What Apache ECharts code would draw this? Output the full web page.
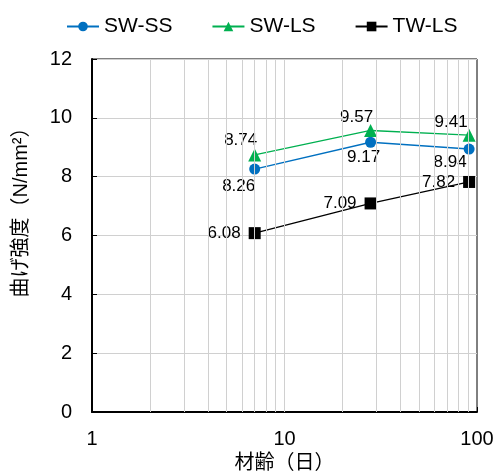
<!DOCTYPE html>
<html><head><meta charset="utf-8">
<script src="https://cdn.jsdelivr.net/npm/echarts@6/dist/echarts.min.js"></script>
<style>html,body{margin:0;padding:0;background:#fff}#c{width:497px;height:473px}</style>
</head><body><div id="c"></div>
<script>
const ages = [7, 28, 91];
const swSS = [8.26, 9.17, 8.94];
const swLS = [8.74, 9.57, 9.41];
const twLS = [6.08, 7.09, 7.82];
const seriesNames = ['SW-SS', 'SW-LS', 'TW-LS'];
const minorGridX = [2,3,4,5,6,7,8,9,10,20,30,40,50,60,70,80,90];
const yTicks = [0, 2, 4, 6, 8, 10, 12];

const FONT = '"Liberation Sans", Arial, "Noto Sans CJK JP", sans-serif';
const chart = echarts.init(document.getElementById('c'));

function pts(vals, offs) {
  return ages.map((a, i) => ({ value: [a, vals[i]], label: { offset: offs[i] } }));
}

chart.setOption({
  animation: false,
  textStyle: { fontFamily: FONT, color: '#000' },
  legend: {
    top: 11, left: 61, itemWidth: 32, itemHeight: 12, itemGap: 39,
    textStyle: { fontSize: 21, color: '#000', fontFamily: FONT },
    data: seriesNames
  },
  grid: { left: 92, right: 20, top: 59, bottom: 61, show: true, borderColor: '#000', borderWidth: 1,
    outerBoundsMode: 'none', containLabel: false },
  xAxis: {
    type: 'log', logBase: 10, min: 1, max: 100,
    name: '材齢（日）', nameLocation: 'middle', nameGap: 40,
    nameTextStyle: { fontSize: 20, color: '#000', fontFamily: FONT },
    axisLine: { lineStyle: { color: '#000', width: 2 } },
    axisTick: { show: true, inside: true, length: 5, lineStyle: { color: '#000' } },
    axisLabel: { fontSize: 20, color: '#000', margin: 17, fontFamily: FONT },
    splitLine: { show: false }
  },
  yAxis: {
    type: 'value', min: 0, max: 12, interval: 2,
    name: '曲げ強度（N/mm²）', nameLocation: 'middle', nameGap: 61,
    nameTextStyle: { fontSize: 20, color: '#000', fontFamily: FONT, padding: [0, 0, 0, 56] },
    axisLine: { show: true, lineStyle: { color: '#000', width: 2 } },
    axisTick: { show: true, inside: true, length: 5, lineStyle: { color: '#000' } },
    axisLabel: { fontSize: 20, color: '#000', margin: 20, fontFamily: FONT,
      formatter: v => yTicks.includes(v) ? String(v) : '' },
    splitLine: { show: true, lineStyle: { color: '#d0d0d0', width: 1 } }
  },
  series: [
    {
      name: '_grid', type: 'line', data: [], silent: true, z: 1,
      markLine: {
        silent: true, symbol: 'none', animation: false,
        label: { show: false },
        lineStyle: { color: '#d0d0d0', width: 1, type: 'solid' },
        data: minorGridX.map(v => ({ xAxis: v }))
      }
    },
    {
      name: 'SW-SS', type: 'line', color: '#0070C0', z: 3,
      symbol: 'circle', symbolSize: 11,
      lineStyle: { width: 1.3, color: '#0070C0' },
      itemStyle: { color: '#0070C0' },
      label: { show: true, position: 'bottom', distance: 1, fontSize: 17, color: '#000', fontFamily: FONT },
      data: pts(swSS, [[-16, 2], [-7, 0], [-19, -2]])
    },
    {
      name: 'SW-LS', type: 'line', color: '#00B050', z: 3,
      symbol: 'triangle', symbolSize: 13,
      lineStyle: { width: 1.3, color: '#00B050' },
      itemStyle: { color: '#00B050' },
      label: { show: true, position: 'top', distance: 1, fontSize: 17, color: '#000', fontFamily: FONT },
      data: pts(swLS, [[-14, 1], [-14, 3], [-18, 3]])
    },
    {
      name: 'TW-LS', type: 'line', color: '#000', z: 3,
      symbol: 'rect', symbolSize: 12,
      lineStyle: { width: 1.3, color: '#000' },
      itemStyle: { color: '#000' },
      label: { show: true, position: 'left', distance: 8, fontSize: 17, color: '#000', fontFamily: FONT },
      data: pts(twLS, [[0, 0], [0, 0], [0, 0]])
    }
  ]
});
</script></body></html>
